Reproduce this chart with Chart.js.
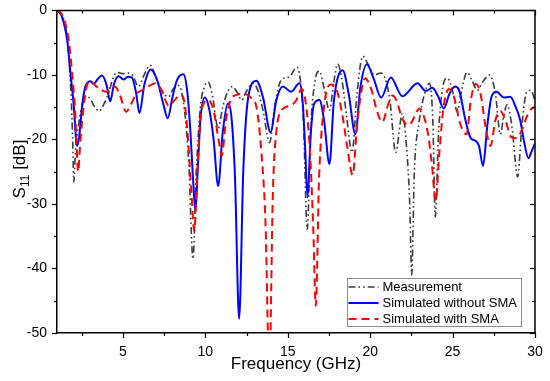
<!DOCTYPE html>
<html><head><meta charset="utf-8">
<script src="https://cdn.jsdelivr.net/npm/chart.js@4.4.1/dist/chart.umd.min.js"></script>
<style>html,body{margin:0;padding:0;background:#fff;}canvas{display:block;}</style>
</head><body>
<canvas id="c" width="550" height="381"></canvas>
<script>
// ---- data ----
const seriesNames = ['Measurement', 'Simulated without SMA', 'Simulated with SMA'];

const measFreq = [1.0,1.3,1.5,1.7,1.85,1.95,2.02,2.12,2.32,2.55,2.72,2.95,3.25,3.55,3.85,4.13,4.4,4.64,5.0,5.3,5.6,5.94,6.25,6.65,7.0,7.35,7.76,8.05,8.3,8.55,8.8,9.0,9.25,9.45,9.7,9.95,10.17,10.45,10.78,11.05,11.38,11.65,11.95,12.2,12.5,12.9,13.2,13.5,13.9,14.2,14.6,15.1,15.55,15.75,15.95,16.18,16.4,16.65,16.92,17.2,17.53,17.8,18.03,18.3,18.55,18.9,19.2,19.55,19.9,20.25,20.65,20.9,21.2,21.55,21.95,22.2,22.4,22.52,22.68,22.96,23.3,23.6,23.8,23.95,24.15,24.4,24.68,25.0,25.28,25.5,25.88,26.2,26.5,26.85,27.25,27.6,27.9,28.1,28.3,28.6,28.95,29.2,29.5,29.75,30.0];
const measDb   = [0,-0.8,-2.2,-6.5,-13,-20,-26.6,-22,-17.5,-14.5,-13.4,-13.5,-14.8,-15.6,-14.5,-12.8,-10.5,-9.6,-9.8,-9.7,-10.1,-11.8,-10.2,-8.5,-10.3,-12.4,-13.4,-12.2,-11.6,-12.5,-17,-24,-38.5,-25,-15,-11.8,-11.1,-13.5,-18.3,-15,-12.5,-11.8,-12.8,-13.9,-12.5,-11.3,-12.5,-15.5,-20.5,-15,-10.8,-10.3,-8.8,-10.5,-17,-34,-18,-11,-9.4,-12,-15.5,-11,-8.3,-11,-16,-22,-13,-7.1,-8.5,-10.0,-9.7,-10.5,-14,-22,-16,-21,-30,-41,-25,-17.5,-12.9,-11.3,-17,-32,-19,-12,-10.5,-12.5,-15.7,-13,-9.6,-11,-12.4,-11,-10.0,-13,-19.2,-16.5,-14.6,-18,-25.8,-18,-12.6,-12.4,-14];

const noSmaFreq = [1.0,1.2,1.4,1.62,1.82,2.02,2.16,2.22,2.35,2.52,2.7,2.85,3.02,3.22,3.45,3.73,4.0,4.23,4.45,4.73,5.04,5.3,5.54,5.8,6.0,6.3,6.69,7.1,7.45,7.72,8.0,8.28,8.66,8.9,9.1,9.25,9.4,9.55,9.7,9.97,10.25,10.5,10.78,11.05,11.38,11.6,11.8,12.05,12.3,12.6,13.1,13.5,13.96,14.3,14.7,15.2,15.71,15.9,16.05,16.2,16.4,16.6,16.92,17.2,17.53,17.8,18.33,18.7,19.1,19.4,19.8,20.2,20.67,21.25,21.95,22.87,23.37,23.77,24.1,24.47,24.8,25.15,25.4,25.78,26.1,26.39,26.6,26.85,27.1,27.35,27.66,28.12,28.5,28.8,29.1,29.35,29.6,29.8,30.0];
const noSmaDb   = [0,-0.4,-1.8,-4.6,-9.8,-14.9,-20.1,-21.0,-19.5,-14.9,-12.0,-11.2,-11.0,-11.4,-10.7,-10.1,-11.5,-14.1,-11.5,-10.2,-10.7,-10.3,-10.4,-12.8,-15.9,-11.5,-9.15,-11.0,-14.5,-16.7,-13.5,-10.8,-9.9,-12.5,-19,-26,-31,-24,-17,-13.5,-15.5,-20,-27.2,-19,-14.4,-17,-26,-47.8,-25,-13.5,-10.9,-13.5,-18.9,-14,-11.8,-12.6,-11.3,-14,-21,-29,-19,-14.5,-13.9,-17,-23.8,-14,-9.26,-13,-19.2,-12,-8.33,-10.5,-13.5,-10.4,-13.3,-11.3,-12.5,-12.0,-13.2,-15.2,-13,-11.8,-12.4,-17.0,-19.8,-20.2,-21,-24.1,-18,-13.5,-12.6,-13.5,-13.4,-14.8,-17.0,-20.5,-22.9,-21.8,-20.6];

const withSmaFreq = [1.0,1.2,1.45,1.71,1.92,2.08,2.18,2.28,2.42,2.62,2.8,3.02,3.3,3.63,3.95,4.23,4.5,4.8,5.2,5.5,5.8,6.2,6.6,6.95,7.3,7.8,8.1,8.5,8.75,8.95,9.15,9.33,9.5,9.7,9.95,10.17,10.5,10.8,11.0,11.25,11.55,11.9,12.3,12.79,13.1,13.4,13.65,13.88,14.1,14.3,14.6,15.2,15.5,15.85,16.1,16.35,16.55,16.7,16.9,17.2,17.6,17.95,18.3,18.6,18.94,19.2,19.44,19.7,20.1,20.4,20.74,21.1,21.35,21.6,21.95,22.3,22.55,22.8,23.0,23.2,23.5,23.75,23.97,24.2,24.45,24.8,25.1,25.45,25.85,26.1,26.4,26.7,27.0,27.3,27.6,27.9,28.2,28.55,28.85,29.1,29.5,29.8,30.0];
const withSmaDb   = [0,-0.3,-1.6,-4.6,-9.8,-14.9,-20.1,-25.0,-20.1,-14.9,-11.8,-10.9,-11.6,-12.2,-12.6,-12.4,-11.8,-13,-15.7,-14.5,-13.0,-12.3,-11.7,-11.3,-12.2,-14.8,-14.0,-13.1,-14.5,-20,-28,-34.2,-26,-17,-14.2,-13.9,-15.5,-20,-22.5,-17,-13.8,-13.1,-12.9,-13.6,-15,-22,-33,-56,-28,-19,-15.6,-14.7,-14,-12.2,-14.5,-22,-34,-45.8,-26,-15,-11.5,-12.2,-16,-21,-25.5,-18,-12.9,-10.5,-12.5,-15.5,-17.3,-14.5,-13.2,-14,-16.8,-17.8,-17.2,-15.8,-15.2,-16,-19,-24,-29.5,-22,-15,-12.2,-13.5,-17.5,-19.2,-14,-11.4,-13,-18,-21,-17,-15.6,-17,-19.6,-19.8,-19.1,-16.5,-15.2,-15.0];

const xTickLabels = [5, 10, 15, 20, 25, 30];
const xMinorTicks = [2.5, 7.5, 12.5, 17.5, 22.5, 27.5];
const yTickLabels = [0, -10, -20, -30, -40, -50];
const yMinorTicks = [-5, -15, -25, -35, -45];

const xTitle = 'Frequency (GHz)';
const yTitleMain = 'S';
const yTitleSub = '11';
const yTitleRest = ' [dB]';

// ---- chart ----
const FONT = "'Liberation Sans', Arial, sans-serif";
const toPts = (f, v) => f.map((x, i) => ({ x: x, y: v[i] }));

const framePlugin = {
  id: 'frame',
  afterDraw(chart) {
    const { ctx, chartArea: a, scales } = chart;
    const xs = scales.x, ys = scales.y;
    ctx.save();
    ctx.strokeStyle = '#000';
    ctx.lineWidth = 1.5;
    ctx.beginPath();
    ctx.moveTo(a.left, a.top); ctx.lineTo(a.right, a.top); ctx.lineTo(a.right, a.bottom);
    ctx.stroke();
    ctx.lineWidth = 1.2;
    const tick = (x1, y1, x2, y2) => { ctx.beginPath(); ctx.moveTo(x1, y1); ctx.lineTo(x2, y2); ctx.stroke(); };
    const MAJ = 5, MIN = 3;
    xTickLabels.forEach(v => { const px = Math.round(xs.getPixelForValue(v)) + 0.5;
      tick(px, a.bottom, px, a.bottom + MAJ); tick(px, a.top, px, a.top + MAJ); });
    xMinorTicks.forEach(v => { const px = Math.round(xs.getPixelForValue(v)) + 0.5;
      tick(px, a.bottom, px, a.bottom + MIN); tick(px, a.top, px, a.top + MIN); });
    yTickLabels.forEach(v => { const py = Math.round(ys.getPixelForValue(v)) + 0.5;
      tick(a.left, py, a.left - MAJ, py); tick(a.right, py, a.right - MAJ, py); });
    yMinorTicks.forEach(v => { const py = Math.round(ys.getPixelForValue(v)) + 0.5;
      tick(a.left, py, a.left - MIN, py); tick(a.right, py, a.right - MIN, py); });

    // axis titles
    ctx.fillStyle = '#000';
    ctx.font = '17px ' + FONT;
    ctx.textAlign = 'center';
    ctx.textBaseline = 'alphabetic';
    ctx.fillText(xTitle, (a.left + a.right) / 2, 369);

    ctx.save();
    ctx.translate(25, 169);
    ctx.rotate(-Math.PI / 2);
    ctx.font = '17px ' + FONT;
    const wMain = ctx.measureText(yTitleMain).width;
    const wRest = ctx.measureText(yTitleRest).width;
    ctx.font = '12px ' + FONT;
    const wSub = ctx.measureText(yTitleSub).width;
    let x0 = -(wMain + wSub + wRest) / 2;
    ctx.textAlign = 'left';
    ctx.font = '17px ' + FONT;
    ctx.fillText(yTitleMain, x0, 0);
    ctx.font = '12px ' + FONT;
    ctx.fillText(yTitleSub, x0 + wMain, 4);
    ctx.font = '17px ' + FONT;
    ctx.fillText(yTitleRest, x0 + wMain + wSub, 0);
    ctx.restore();

    // legend
    const lx = 347.5, ly = 278.5, lw = 174, lh = 48;
    ctx.fillStyle = '#fff';
    ctx.fillRect(lx, ly, lw, lh);
    ctx.strokeStyle = '#8c8c8c';
    ctx.lineWidth = 1;
    ctx.strokeRect(lx, ly, lw, lh);
    ctx.font = '13px ' + FONT;
    ctx.textAlign = 'left';
    ctx.textBaseline = 'middle';
    [0, 1, 2].forEach((di, i) => {
      const ds = chart.data.datasets[di];
      const cy = ly + 8.5 + i * 16;
      ctx.save();
      ctx.strokeStyle = ds.borderColor;
      ctx.lineWidth = ds.borderWidth;
      ctx.setLineDash(ds.borderDash || []);
      ctx.beginPath(); ctx.moveTo(lx + 1, cy); ctx.lineTo(lx + 31, cy); ctx.stroke();
      ctx.restore();
      ctx.fillStyle = '#000';
      ctx.fillText(ds.label, lx + 35, cy + 0.5);
    });
    ctx.restore();
  }
};

new Chart(document.getElementById('c'), {
  type: 'line',
  data: {
    datasets: [
      { label: seriesNames[0], data: toPts(measFreq, measDb), borderColor: '#3c3c3c', borderWidth: 1.6,
        borderDash: [7, 3, 1.6, 3, 1.6, 3], order: 2 },
      { label: seriesNames[1], data: toPts(noSmaFreq, noSmaDb), borderColor: '#0000ff', borderWidth: 2, order: 1 },
      { label: seriesNames[2], data: toPts(withSmaFreq, withSmaDb), borderColor: '#ff0000', borderWidth: 2,
        borderDash: [8, 5], order: 0 }
    ]
  },
  options: {
    responsive: false, animation: false, devicePixelRatio: 1,
    layout: { padding: { left: 0, right: 15, top: 10, bottom: 0 } },
    elements: { point: { radius: 0 }, line: { cubicInterpolationMode: 'monotone', fill: false } },
    plugins: { legend: { display: false }, tooltip: { enabled: false } },
    scales: {
      x: {
        type: 'linear', min: 1, max: 30,
        afterBuildTicks: s => { s.ticks = xTickLabels.map(v => ({ value: v })); },
        afterFit: s => { s.height = 48; },
        grid: { display: false },
        border: { display: true, color: '#000', width: 1.5 },
        ticks: { color: '#000', font: { family: FONT, size: 14 }, padding: 3, maxRotation: 0, autoSkip: false }
      },
      y: {
        type: 'linear', min: -50, max: 0,
        afterBuildTicks: s => { s.ticks = yTickLabels.map(v => ({ value: v })); },
        afterFit: s => { s.width = 57; },
        grid: { display: true, drawOnChartArea: false, drawTicks: true, tickLength: 8, color: 'rgba(0,0,0,0)' },
        border: { display: true, color: '#000', width: 1.5 },
        ticks: { color: '#000', font: { family: FONT, size: 14 }, padding: 2, autoSkip: false }
      }
    }
  },
  plugins: [framePlugin]
});
</script>
</body></html>
